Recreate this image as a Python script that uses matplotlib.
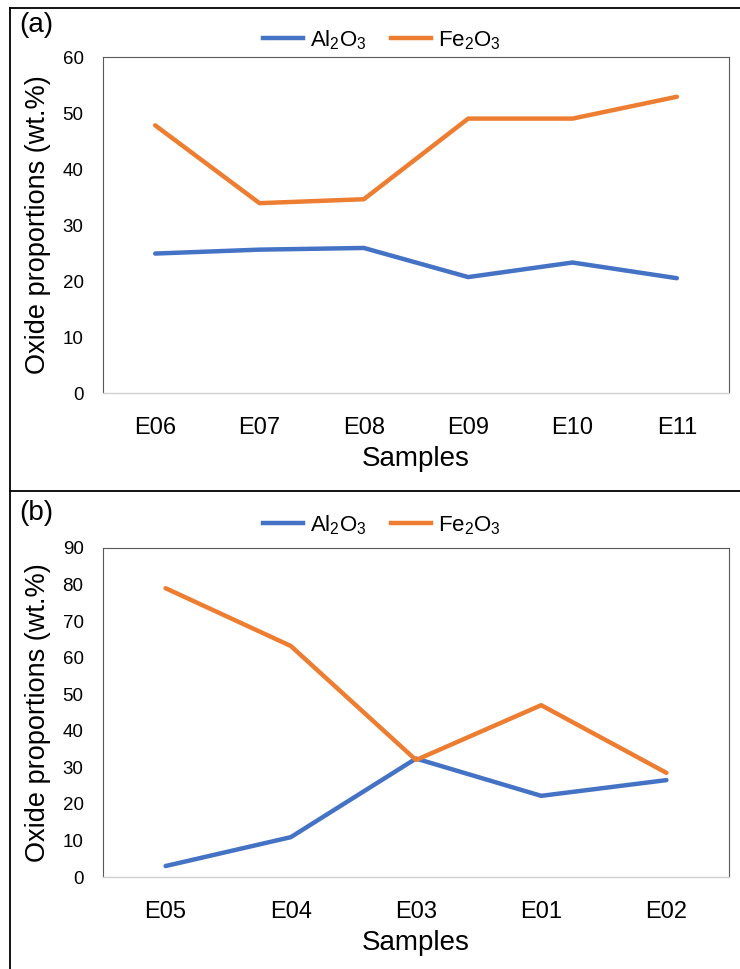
import matplotlib.pyplot as plt
from matplotlib.lines import Line2D

plt.rcParams['font.family'] = ['Liberation Sans', 'DejaVu Sans']
plt.rcParams['mathtext.default'] = 'regular'

samples_a = ["E06", "E07", "E08", "E09", "E10", "E11"]
al2o3_a = [24.9, 25.6, 25.9, 20.7, 23.3, 20.5]
fe2o3_a = [47.8, 33.9, 34.6, 49.0, 49.0, 52.9]

samples_b = ["E05", "E04", "E03", "E01", "E02"]
al2o3_b = [3.0, 10.9, 32.4, 22.2, 26.5]
fe2o3_b = [79.0, 63.2, 32.0, 47.0, 28.5]

BLUE = "#4472C4"
ORANGE = "#ED7D31"
W, H = 740, 969

fig = plt.figure(figsize=(W / 100, H / 100), dpi=100)


def fx(px):
    return px / W


def fy(py):
    return 1 - py / H


def panel(top_px, bottom_px, samples, al, fe, ymax, label, label_y, legend_y):
    ax = fig.add_axes([fx(103), fy(bottom_px), fx(729) - fx(103), fy(top_px) - fy(bottom_px)])
    x = range(len(samples))
    ax.plot(x, al, color=BLUE, lw=3.2, solid_capstyle="round")
    ax.plot(x, fe, color=ORANGE, lw=3.2, solid_capstyle="round")
    ax.set_xlim(-0.5, len(samples) - 0.5)
    ax.set_ylim(0, ymax)
    ax.set_yticks(range(0, ymax + 1, 10))
    ax.set_xticks(list(x))
    ax.set_xticklabels(samples)
    ax.tick_params(axis="y", length=0, pad=14, labelsize=13.5)
    ax.tick_params(axis="x", length=0, pad=17, labelsize=17)
    for s in ["top", "right", "left"]:
        ax.spines[s].set_color("#595959")
        ax.spines[s].set_linewidth(0.8)
    ax.spines["bottom"].set_color("#d0d0d0")
    ax.spines["bottom"].set_linewidth(1)
    ax.set_xlabel("Samples", fontsize=20, labelpad=5)
    ax.set_ylabel("Oxide proportions (wt.%)", fontsize=19.5, labelpad=8)

    fig.text(fx(19), fy(label_y), label, fontsize=20, va="center", ha="left")
    handles = [Line2D([], [], color=BLUE, lw=3.2), Line2D([], [], color=ORANGE, lw=3.2)]
    fig.legend(handles, [r"Al$_2$O$_3$", r"Fe$_2$O$_3$"], loc="center",
               bbox_to_anchor=(fx(382), fy(legend_y)), ncol=2, frameon=False,
               fontsize=16, handlelength=1.8, handletextpad=0.3, columnspacing=1.1)
    return ax


panel(57, 393, samples_a, al2o3_a, fe2o3_a, 60, "(a)", 25, 40)
panel(548, 877, samples_b, al2o3_b, fe2o3_b, 90, "(b)", 513, 525)

# panel frames
for (x0, y0, x1, y1) in [(10, 8, W, 8), (10, 8, 10, H), (10, 491, W, 491)]:
    fig.add_artist(Line2D([fx(x0), fx(x1)], [fy(y0), fy(y1)], color="black", lw=1.3))

fig.savefig("out.png", dpi=100)
